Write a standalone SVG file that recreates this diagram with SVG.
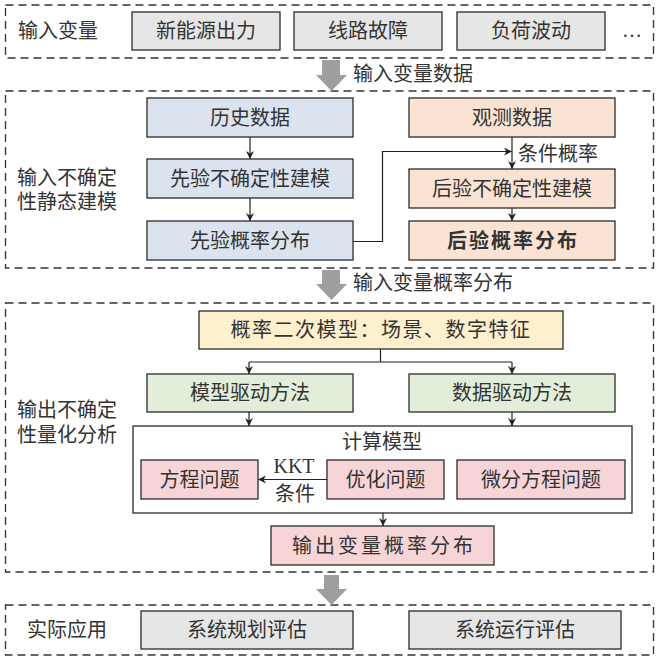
<svg xmlns="http://www.w3.org/2000/svg" width="663" height="660" viewBox="0 0 663 660">
<defs>
<style>
text{font-family:"Liberation Serif","Noto Sans CJK SC",serif;font-size:20px;fill:#333;dominant-baseline:central}
.c{text-anchor:middle}
.sec{fill:none;stroke:#333;stroke-width:1.3;stroke-dasharray:8 5}
.box{stroke:#2b2b2b;stroke-width:1.3}
.gray{fill:#e6e6e6}
.blue{fill:#dbe3ef}
.orange{fill:#fbe3d3}
.yellow{fill:#fdf0cc}
.green{fill:#e2eed9}
.pink{fill:#f7d5d7}
.white{fill:#fff}
.ln{fill:none;stroke:#222;stroke-width:1.2}
.big{fill:#9e9e9e}
</style>
<marker id="ah" viewBox="0 0 10 10" refX="10" refY="5" markerWidth="8" markerHeight="8" markerUnits="userSpaceOnUse" orient="auto">
<path d="M0,0 L10,5 L0,10 L3,5 Z" fill="#222"/>
</marker>
</defs>
<rect width="663" height="660" fill="#fff"/>

<!-- sections -->
<g id="sections">
<rect class="sec" x="5.5" y="5" width="648" height="53"/>
<rect class="sec" x="5.5" y="91" width="648" height="177"/>
<rect class="sec" x="5.5" y="303" width="648" height="269"/>
<rect class="sec" x="5.5" y="605" width="648" height="50"/>
<text x="18" y="31">输入变量</text>
<text x="17" y="178">输入不确定</text>
<text x="17" y="202">性静态建模</text>
<text x="17" y="410">输出不确定</text>
<text x="17" y="435">性量化分析</text>
<text x="27" y="630">实际应用</text>
<text x="622" y="30">…</text>
</g>

<!-- big arrows -->
<g id="bigarrows">
<path class="big" d="M322,60 H340 V75 H347 L331.5,91 L316,75 H322 Z"/>
<text x="353" y="74">输入变量数据</text>
<path class="big" d="M322,270 H340 V284 H347 L331.5,300 L316,284 H322 Z"/>
<text x="353" y="283">输入变量概率分布</text>
<path class="big" d="M324,575 H339 V589 H347 L331.5,605 L316,589 H324 Z"/>
</g>

<!-- section 1 nodes -->
<g id="n_xinnengyuan"><rect class="box gray" x="132" y="12" width="148" height="38"/><text class="c" x="206" y="31">新能源出力</text></g>
<g id="n_xianlu"><rect class="box gray" x="294" y="12" width="148" height="38"/><text class="c" x="368" y="31">线路故障</text></g>
<g id="n_fuhe"><rect class="box gray" x="457" y="12" width="148" height="38"/><text class="c" x="531" y="31">负荷波动</text></g>

<!-- section 2 nodes -->
<g id="n_lishi"><rect class="box blue" x="147" y="98" width="206" height="39"/><text class="c" x="250" y="117.5">历史数据</text></g>
<g id="n_xianyan_jianmo"><rect class="box blue" x="147" y="159" width="206" height="39"/><text class="c" x="250" y="178.5">先验不确定性建模</text></g>
<g id="n_xianyan_fenbu"><rect class="box blue" x="147" y="221" width="206" height="39"/><text class="c" x="250" y="240.5">先验概率分布</text></g>
<g id="n_guance"><rect class="box orange" x="409" y="98" width="206" height="39"/><text class="c" x="512" y="117.5">观测数据</text></g>
<g id="n_houyan_jianmo"><rect class="box orange" x="409" y="169" width="206" height="39"/><text class="c" x="512" y="188.5">后验不确定性建模</text></g>
<g id="n_houyan_fenbu"><rect class="box orange" x="409" y="221" width="206" height="39"/><text class="c" x="513" y="240.5" style="font-weight:bold;letter-spacing:2px">后验概率分布</text></g>

<!-- section 3 nodes -->
<g id="n_erci"><rect class="box yellow" x="199" y="311" width="364" height="38"/><text class="c" x="381" y="330" style="letter-spacing:1.5px">概率二次模型：场景、数字特征</text></g>
<g id="n_moxing"><rect class="box green" x="147" y="374" width="206" height="38"/><text class="c" x="250" y="393">模型驱动方法</text></g>
<g id="n_shuju"><rect class="box green" x="409" y="374" width="206" height="38"/><text class="c" x="512" y="393">数据驱动方法</text></g>
<g id="n_jisuan"><rect class="box white" x="133" y="426" width="499" height="87"/><text class="c" x="382" y="442">计算模型</text></g>
<g id="n_fangcheng"><rect class="box pink" x="141" y="460" width="117" height="39"/><text class="c" x="199.5" y="479.5">方程问题</text></g>
<g id="n_youhua"><rect class="box pink" x="327" y="460" width="117" height="39"/><text class="c" x="385.5" y="479.5">优化问题</text></g>
<g id="n_weifen"><rect class="box pink" x="457" y="460" width="168" height="39"/><text class="c" x="541" y="479.5">微分方程问题</text></g>
<g id="n_shuchu"><rect class="box pink" x="271" y="526" width="223" height="39"/><text class="c" x="384" y="545.5" style="letter-spacing:3px">输出变量概率分布</text></g>

<!-- section 4 nodes -->
<g id="n_guihua"><rect class="box gray" x="141" y="611" width="212" height="38"/><text class="c" x="247" y="630">系统规划评估</text></g>
<g id="n_yunxing"><rect class="box gray" x="409" y="611" width="212" height="38"/><text class="c" x="515" y="630">系统运行评估</text></g>

<!-- connectors -->
<g id="connectors">
<line class="ln" x1="250" y1="137" x2="250" y2="159" marker-end="url(#ah)"/>
<line class="ln" x1="250" y1="198" x2="250" y2="221" marker-end="url(#ah)"/>
<polyline class="ln" points="353,241.5 382.5,241.5 382.5,151.5 512,151.5" marker-end="url(#ah)"/>
<line class="ln" x1="512" y1="137" x2="512" y2="169" marker-end="url(#ah)"/>
<text x="518" y="154">条件概率</text>
<line class="ln" x1="512" y1="208" x2="512" y2="221" marker-end="url(#ah)"/>
<line class="ln" x1="380.5" y1="349" x2="380.5" y2="362"/>
<line class="ln" x1="249" y1="362" x2="512" y2="362"/>
<line class="ln" x1="249" y1="362" x2="249" y2="374" marker-end="url(#ah)"/>
<line class="ln" x1="512" y1="362" x2="512" y2="374" marker-end="url(#ah)"/>
<line class="ln" x1="249" y1="412" x2="249" y2="426" marker-end="url(#ah)"/>
<line class="ln" x1="512" y1="412" x2="512" y2="426" marker-end="url(#ah)"/>
<line class="ln" x1="327" y1="479.5" x2="258" y2="479.5" marker-end="url(#ah)"/>
<text class="c" x="294" y="466">KKT</text>
<text class="c" x="295" y="494">条件</text>
<line class="ln" x1="383" y1="513" x2="383" y2="526" marker-end="url(#ah)"/>
</g>
</svg>
